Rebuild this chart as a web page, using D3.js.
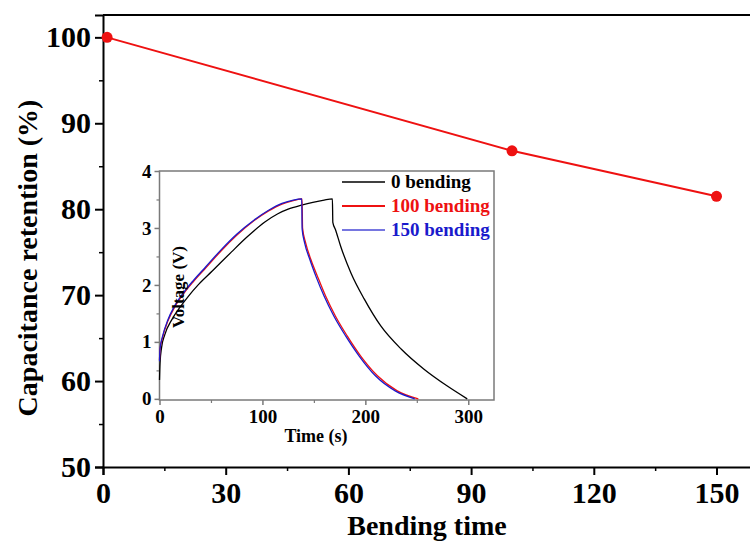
<!DOCTYPE html>
<html>
<head>
<meta charset="utf-8">
<script src="https://cdn.jsdelivr.net/npm/d3@7"></script>
<style>
  html, body { margin: 0; padding: 0; background: #fff; }
  svg { display: block; font-family: "Liberation Serif", "DejaVu Serif", serif; font-weight: bold; }
  svg text { font-family: "Liberation Serif", "DejaVu Serif", serif; font-weight: bold; }
</style>
</head>
<body>
<svg id="chart" width="750" height="541"></svg>
<script>
// ── Main chart data ──────────────────────────────────────────────
const bendCounts = [1, 100, 150];
const retention  = [100, 86.8, 81.5];
const mainXTicks = [0, 30, 60, 90, 120, 150];
const mainYTicks = [50, 60, 70, 80, 90, 100];

// ── Inset: galvanostatic charge/discharge curves ─────────────────
const bend0T = [0, 0.5, 2, 5, 12, 20, 28, 38, 51, 70, 85, 102, 115, 125, 138, 149, 160, 168,
                168.4, 171, 176, 186, 199, 215, 235, 257, 280, 299];
const bend0V = [0.33, 0.62, 0.9, 1.12, 1.39, 1.61, 1.80, 2.01, 2.24, 2.58, 2.84, 3.10, 3.25, 3.33, 3.40, 3.45, 3.49, 3.51,
                3.10, 2.97, 2.68, 2.21, 1.75, 1.28, 0.87, 0.52, 0.22, 0];

const bend100T = [0, 0.5, 3, 8, 15, 24, 33, 45, 60, 75, 92, 106, 119, 130, 138.5,
                  139, 142, 147, 153.5, 161.5, 171, 182.5, 195.5, 212, 231, 251.5];
const bend100V = [0.68, 0.86, 1.08, 1.36, 1.62, 1.86, 2.06, 2.30, 2.60, 2.87, 3.13, 3.30, 3.42, 3.48, 3.51,
                  3.00, 2.74, 2.45, 2.15, 1.80, 1.45, 1.10, 0.75, 0.40, 0.14, 0];

const bend150T = [0, 0.5, 3, 8, 15, 24, 33, 45, 60, 75, 92, 106, 119, 130, 138.2,
                  138.6, 141, 146, 152, 160, 169.5, 181, 194, 210, 229, 248];
const bend150V = [0.66, 0.88, 1.10, 1.38, 1.64, 1.88, 2.08, 2.32, 2.62, 2.89, 3.14, 3.31, 3.43, 3.49, 3.51,
                  2.98, 2.74, 2.45, 2.15, 1.80, 1.45, 1.10, 0.75, 0.40, 0.14, 0];

const insetXTicks = [0, 100, 200, 300];
const insetYTicks = [0, 1, 2, 3, 4];
const seriesNames  = ['0 bending', '100 bending', '150 bending'];
const seriesColors = ['#000000', '#ee1111', '#1a1acc'];

// ── Drawing ──────────────────────────────────────────────────────
const svg = d3.select('#chart');

// strip d3's default axis font so the serif from CSS applies
function styleAxis(sel, size, tickColor) {
  sel.attr('font-family', null).attr('font-size', null);
  sel.selectAll('text').attr('font-size', size).attr('fill', '#000');
  if (tickColor) sel.selectAll('.tick line').attr('stroke', tickColor);
}

// main plot area
const x = d3.scaleLinear().domain([0, 160]).range([103, 757.4]);
const y = d3.scaleLinear().domain([50, 102.6]).range([467, 15]);

const g = svg.append('g');

// frame top / right
g.append('line').attr('x1', x(0)).attr('x2', x(160)).attr('y1', y(102.6)).attr('y2', y(102.6))
  .attr('stroke', '#000').attr('stroke-width', 2);
g.append('line').attr('x1', x(160)).attr('x2', x(160)).attr('y1', y(50)).attr('y2', y(102.6))
  .attr('stroke', '#000').attr('stroke-width', 2);

// x axis
const xAxis = g.append('g').attr('transform', `translate(0,${y(50)})`)
  .call(d3.axisBottom(x).tickValues(mainXTicks).tickSize(8).tickPadding(7).tickFormat(d3.format('d')));
xAxis.select('.domain').attr('stroke-width', 2);
xAxis.selectAll('.tick line').attr('stroke-width', 2);
styleAxis(xAxis, 30);
g.append('g').attr('transform', `translate(0,${y(50)})`)
  .call(d3.axisBottom(x).tickValues(d3.range(15, 160, 30)).tickSize(4).tickFormat(''))
  .call(s => s.select('.domain').remove())
  .selectAll('.tick line').attr('stroke-width', 1.5);

// y axis
const yAxis = g.append('g').attr('transform', `translate(${x(0)},0)`)
  .call(d3.axisLeft(y).tickValues(mainYTicks).tickSize(8).tickPadding(4).tickFormat(d3.format('d')));
yAxis.select('.domain').attr('stroke-width', 2);
yAxis.selectAll('.tick line').attr('stroke-width', 2);
styleAxis(yAxis, 30);
g.append('g').attr('transform', `translate(${x(0)},0)`)
  .call(d3.axisLeft(y).tickValues(d3.range(55, 101, 10)).tickSize(4).tickFormat(''))
  .call(s => s.select('.domain').remove())
  .selectAll('.tick line').attr('stroke-width', 1.5);

// axis titles
svg.append('text')
  .attr('x', 427).attr('y', 535)
  .attr('text-anchor', 'middle').attr('font-size', 28)
  .text('Bending time');
svg.append('text')
  .attr('transform', 'translate(37,258) rotate(-90)')
  .attr('text-anchor', 'middle').attr('font-size', 28)
  .text('Capacitance retention (%)');

// retention line + dots
const pts = bendCounts.map((b, i) => ({ b, r: retention[i] }));
g.append('path').datum(pts)
  .attr('fill', 'none').attr('stroke', '#ee1111').attr('stroke-width', 2)
  .attr('d', d3.line().x(d => x(d.b)).y(d => y(d.r)));
g.selectAll('circle.pt').data(pts).join('circle')
  .attr('class', 'pt')
  .attr('cx', d => x(d.b)).attr('cy', d => y(d.r)).attr('r', 5.5)
  .attr('fill', '#ee1111');

// ── Inset ────────────────────────────────────────────────────────
const xi = d3.scaleLinear().domain([0, 325]).range([159.5, 494]);
const yi = d3.scaleLinear().domain([-0.02, 4]).range([400, 171]);
const gi = svg.append('g');
const grey = '#7a7a7a';

gi.append('rect')
  .attr('x', xi(0)).attr('y', yi(4)).attr('width', xi(325) - xi(0)).attr('height', yi(-0.02) - yi(4))
  .attr('fill', '#fff').attr('stroke', grey).attr('stroke-width', 1.5);

const xiAxis = gi.append('g').attr('transform', `translate(0,${yi(-0.02)})`)
  .call(d3.axisBottom(xi).tickValues(insetXTicks).tickSize(5).tickPadding(5).tickFormat(d3.format('d')));
xiAxis.select('.domain').remove();
xiAxis.selectAll('.tick line').attr('stroke-width', 1.5);
styleAxis(xiAxis, 19, grey);
gi.append('g').attr('transform', `translate(0,${yi(-0.02)})`)
  .call(d3.axisBottom(xi).tickValues([50, 150, 250]).tickSize(3).tickFormat(''))
  .call(s => s.select('.domain').remove())
  .selectAll('.tick line').attr('stroke', grey).attr('stroke-width', 1.2);

const yiAxis = gi.append('g').attr('transform', `translate(${xi(0)},0)`)
  .call(d3.axisLeft(yi).tickValues(insetYTicks).tickSize(5).tickPadding(3).tickFormat(d3.format('d')));
yiAxis.select('.domain').remove();
yiAxis.selectAll('.tick line').attr('stroke-width', 1.5);
styleAxis(yiAxis, 19, grey);
gi.append('g').attr('transform', `translate(${xi(0)},0)`)
  .call(d3.axisLeft(yi).tickValues([0.5, 1.5, 2.5, 3.5]).tickSize(3).tickFormat(''))
  .call(s => s.select('.domain').remove())
  .selectAll('.tick line').attr('stroke', grey).attr('stroke-width', 1.2);

gi.append('text')
  .attr('x', 316).attr('y', 442)
  .attr('text-anchor', 'middle').attr('font-size', 18)
  .text('Time (s)');

const curves = [
  bend0T.map((t, i) => ({ t, v: bend0V[i] })),
  bend100T.map((t, i) => ({ t, v: bend100V[i] })),
  bend150T.map((t, i) => ({ t, v: bend150V[i] }))
];
const vLine = d3.line().x(d => xi(d.t)).y(d => yi(d.v)).curve(d3.curveMonotoneX);
curves.forEach((c, i) => {
  gi.append('path').datum(c)
    .attr('fill', 'none').attr('stroke', seriesColors[i]).attr('stroke-width', 1.3)
    .attr('d', vLine);
});

gi.append('text')
  .attr('transform', 'translate(184,287) rotate(-90)')
  .attr('text-anchor', 'middle').attr('font-size', 17)
  .text('Voltage (V)');

// legend
const leg = gi.append('g');
seriesNames.forEach((name, i) => {
  const ly = 182 + i * 24;
  leg.append('line').attr('x1', 342).attr('x2', 385).attr('y1', ly).attr('y2', ly)
    .attr('stroke', seriesColors[i]).attr('stroke-width', i === 0 ? 1.3 : 2)
    .attr('stroke-opacity', i === 2 ? 0.6 : 1);
  leg.append('text').attr('x', 391).attr('y', ly + 6)
    .attr('font-size', 19).attr('fill', seriesColors[i])
    .text(name);
});
</script>
</body>
</html>
